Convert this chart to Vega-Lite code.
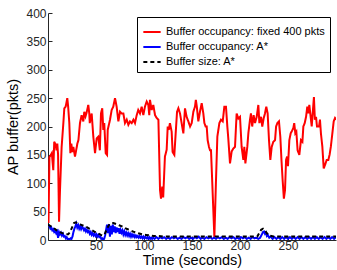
{
  "$schema": "https://vega.github.io/schema/vega-lite/v6.json",
  "width": 288,
  "height": 227,
  "autosize": {"type": "none"},
  "padding": {"left": 48, "top": 13, "right": 1, "bottom": 30},
  "background": "white",
  "config": {
    "view": {"stroke": null},
    "font": "Liberation Sans",
    "axis": {
      "grid": false,
      "domainColor": "#262626",
      "tickColor": "#262626",
      "labelColor": "#262626",
      "titleColor": "#000000",
      "labelFont": "Liberation Sans",
      "titleFont": "Liberation Sans",
      "labelFontSize": 12,
      "titleFontSize": 14.5,
      "titleFontWeight": "normal",
      "tickSize": -4,
      "domainWidth": 1
    }
  },
  "datasets": {
    "red": [
      {"t":0.5,"v":30},{"t":1.5,"v":146},{"t":3,"v":150},{"t":4,"v":153},{"t":5.5,"v":123},{"t":6.5,"v":173},{"t":8,"v":168},{"t":8.8,"v":158},{"t":9.7,"v":170},{"t":10.5,"v":150},{"t":11.5,"v":32},{"t":12.5,"v":88},{"t":14.2,"v":164},{"t":16,"v":206},{"t":17,"v":232},{"t":18.4,"v":235},{"t":20.1,"v":250},{"t":21,"v":235},{"t":22.2,"v":206},{"t":23.3,"v":153},{"t":24.3,"v":170},{"t":25.3,"v":155},{"t":26.4,"v":164},{"t":28.1,"v":147},{"t":29,"v":155},{"t":30.6,"v":170},{"t":31.7,"v":176},{"t":33.3,"v":206},{"t":35,"v":220},{"t":36.8,"v":209},{"t":37.8,"v":226},{"t":39.1,"v":218},{"t":40,"v":223},{"t":42,"v":238},{"t":43,"v":223},{"t":43.5,"v":206},{"t":45.5,"v":223},{"t":47.2,"v":182},{"t":49,"v":153},{"t":50.7,"v":179},{"t":52.4,"v":182},{"t":54,"v":158},{"t":55.2,"v":223},{"t":56.5,"v":232},{"t":57.6,"v":194},{"t":58.6,"v":206},{"t":60.1,"v":153},{"t":61.5,"v":150},{"t":62.2,"v":194},{"t":64.6,"v":212},{"t":66.3,"v":229},{"t":68,"v":235},{"t":69.8,"v":250},{"t":71.5,"v":235},{"t":73.3,"v":209},{"t":75,"v":226},{"t":76.7,"v":223},{"t":78.5,"v":223},{"t":80.2,"v":206},{"t":82,"v":212},{"t":83.7,"v":203},{"t":85.4,"v":209},{"t":87.2,"v":206},{"t":89,"v":212},{"t":90.6,"v":206},{"t":92.4,"v":220},{"t":94,"v":229},{"t":95.8,"v":223},{"t":97.6,"v":235},{"t":99.3,"v":220},{"t":101,"v":235},{"t":102.8,"v":244},{"t":104.5,"v":238},{"t":105.5,"v":220},{"t":106.2,"v":247},{"t":108,"v":229},{"t":109.7,"v":238},{"t":111.5,"v":220},{"t":113.2,"v":215},{"t":115,"v":212},{"t":116.7,"v":88},{"t":117.7,"v":73},{"t":119,"v":94},{"t":120,"v":75},{"t":121.8,"v":147},{"t":123.6,"v":159},{"t":124.7,"v":200},{"t":125.8,"v":194},{"t":127,"v":206},{"t":128.8,"v":191},{"t":129.8,"v":155},{"t":131.6,"v":150},{"t":133,"v":188},{"t":134.4,"v":226},{"t":135.8,"v":232},{"t":137.5,"v":223},{"t":139.2,"v":206},{"t":141,"v":188},{"t":142.7,"v":232},{"t":144.4,"v":217},{"t":146.2,"v":209},{"t":148,"v":200},{"t":149.7,"v":206},{"t":151.4,"v":226},{"t":153.1,"v":235},{"t":154,"v":247},{"t":155,"v":235},{"t":156.6,"v":209},{"t":158.3,"v":226},{"t":160.1,"v":241},{"t":161.8,"v":223},{"t":162.9,"v":206},{"t":164.2,"v":200},{"t":165.3,"v":200},{"t":166.3,"v":176},{"t":167.7,"v":164},{"t":168.8,"v":158},{"t":169.8,"v":158},{"t":171,"v":106},{"t":173.3,"v":5},{"t":175,"v":106},{"t":176.4,"v":182},{"t":178.5,"v":206},{"t":180.2,"v":212},{"t":182,"v":209},{"t":183.7,"v":235},{"t":185.4,"v":235},{"t":186.8,"v":200},{"t":187.8,"v":179},{"t":189.6,"v":135},{"t":191.3,"v":156},{"t":193,"v":161},{"t":194.8,"v":164},{"t":196.5,"v":223},{"t":198.3,"v":214},{"t":200,"v":217},{"t":201.7,"v":164},{"t":203.5,"v":141},{"t":204.5,"v":164},{"t":205.6,"v":135},{"t":207.6,"v":164},{"t":208.7,"v":188},{"t":210.4,"v":212},{"t":211.4,"v":223},{"t":212.7,"v":200},{"t":214.2,"v":220},{"t":215.6,"v":206},{"t":217.4,"v":217},{"t":219.1,"v":238},{"t":220.2,"v":206},{"t":221.9,"v":217},{"t":223.2,"v":200},{"t":224.6,"v":214},{"t":226,"v":223},{"t":227.4,"v":235},{"t":228.8,"v":223},{"t":230.2,"v":176},{"t":231.6,"v":141},{"t":233,"v":164},{"t":234.7,"v":173},{"t":236.5,"v":176},{"t":237.6,"v":200},{"t":238.9,"v":206},{"t":240.6,"v":209},{"t":242,"v":182},{"t":243.2,"v":141},{"t":244.4,"v":106},{"t":245.7,"v":73},{"t":246.9,"v":88},{"t":248,"v":141},{"t":249,"v":147},{"t":250,"v":130},{"t":251.4,"v":176},{"t":252.8,"v":188},{"t":253.8,"v":191},{"t":255.5,"v":197},{"t":256.5,"v":206},{"t":257.6,"v":188},{"t":258.7,"v":191},{"t":260,"v":158},{"t":261.8,"v":150},{"t":263.5,"v":176},{"t":265,"v":173},{"t":266,"v":200},{"t":267.4,"v":206},{"t":268.8,"v":217},{"t":270.1,"v":235},{"t":271.2,"v":223},{"t":272.2,"v":238},{"t":273.6,"v":217},{"t":274.7,"v":200},{"t":275.7,"v":223},{"t":277,"v":252},{"t":278,"v":212},{"t":279.2,"v":217},{"t":280.2,"v":200},{"t":282.3,"v":200},{"t":283.3,"v":212},{"t":284.3,"v":188},{"t":285.8,"v":164},{"t":287.2,"v":126},{"t":288.5,"v":132},{"t":290.3,"v":141},{"t":292,"v":141},{"t":293.3,"v":150},{"t":294.6,"v":164},{"t":296.2,"v":188},{"t":297.6,"v":209},{"t":299,"v":215},{"t":300.5,"v":212}
    ],
    "blue": [
      {"t":0.3,"v":27},{"t":1.5,"v":24},{"t":2.5,"v":20},{"t":3.5,"v":22},{"t":4.5,"v":17},{"t":5.5,"v":19},{"t":6.5,"v":14},{"t":7.5,"v":16},{"t":8.5,"v":12},{"t":9.5,"v":15},{"t":10.5,"v":4},{"t":11.5,"v":14},{"t":12.5,"v":10},{"t":13.5,"v":13},{"t":14.5,"v":8},{"t":15.5,"v":11},{"t":16.5,"v":6},{"t":17.5,"v":7},{"t":18.5,"v":3},{"t":19.5,"v":5},{"t":20.5,"v":1},{"t":21.5,"v":2},{"t":22.5,"v":1},{"t":23.5,"v":3},{"t":24.5,"v":2},{"t":25.5,"v":6},{"t":26.5,"v":14},{"t":27.5,"v":20},{"t":28.5,"v":24},{"t":29.5,"v":29},{"t":30.5,"v":22},{"t":31.5,"v":26},{"t":32.5,"v":20},{"t":33.5,"v":24},{"t":34.5,"v":19},{"t":35.5,"v":23},{"t":36.5,"v":21},{"t":37.5,"v":17},{"t":38.5,"v":20},{"t":39.5,"v":15},{"t":40.5,"v":18},{"t":41.5,"v":14},{"t":42.5,"v":16},{"t":43.5,"v":11},{"t":44.5,"v":14},{"t":45.5,"v":9},{"t":46.5,"v":12},{"t":47.5,"v":8},{"t":48.5,"v":11},{"t":49.5,"v":7},{"t":50.5,"v":10},{"t":51.5,"v":6},{"t":52.5,"v":9},{"t":53.5,"v":5},{"t":54.5,"v":6},{"t":55.5,"v":2},{"t":56.5,"v":3},{"t":57.5,"v":0},{"t":58.5,"v":2},{"t":59.5,"v":8},{"t":60.5,"v":18},{"t":61.5,"v":27},{"t":62.5,"v":12},{"t":63.5,"v":28},{"t":64.5,"v":6},{"t":65.5,"v":25},{"t":66.5,"v":10},{"t":67.5,"v":27},{"t":68.5,"v":14},{"t":69.5,"v":24},{"t":70.5,"v":12},{"t":71.5,"v":22},{"t":72.5,"v":14},{"t":73.5,"v":21},{"t":74.5,"v":11},{"t":75.5,"v":18},{"t":76.5,"v":13},{"t":77.5,"v":17},{"t":78.5,"v":10},{"t":79.5,"v":15},{"t":80.5,"v":9},{"t":81.5,"v":13},{"t":82.5,"v":8},{"t":83.5,"v":12},{"t":84.5,"v":7},{"t":85.5,"v":11},{"t":86.5,"v":6},{"t":87.5,"v":10},{"t":88.5,"v":6},{"t":89.5,"v":9},{"t":90.5,"v":5},{"t":91.5,"v":8},{"t":92.5,"v":5},{"t":93.5,"v":7},{"t":94.5,"v":4},{"t":95.5,"v":7},{"t":96.5,"v":4},{"t":97.5,"v":6},{"t":98.5,"v":3},{"t":99.5,"v":6},{"t":100.5,"v":3},{"t":101.5,"v":5},{"t":102.5,"v":3},{"t":103.5,"v":5},{"t":104.5,"v":2},{"t":105.5,"v":5},{"t":106.5,"v":2},{"t":107.5,"v":4},{"t":108.5,"v":2},{"t":109.5,"v":4},
      {"t":111,"v":2},{"t":113,"v":5},{"t":115,"v":2},{"t":117,"v":5},{"t":119,"v":3},{"t":121,"v":5},{"t":123,"v":2},{"t":125,"v":4},{"t":127,"v":2},{"t":129,"v":5},{"t":131,"v":3},{"t":133,"v":5},{"t":135,"v":2},{"t":137,"v":4},{"t":139,"v":2},{"t":141,"v":5},{"t":143,"v":3},{"t":145,"v":5},{"t":147,"v":2},{"t":149,"v":4},{"t":151,"v":2},{"t":153,"v":5},{"t":155,"v":3},{"t":157,"v":6},{"t":159,"v":2},{"t":161,"v":4},{"t":163,"v":2},{"t":165,"v":5},{"t":167,"v":3},{"t":169,"v":5},{"t":171,"v":2},{"t":173,"v":4},{"t":175,"v":2},{"t":177,"v":5},{"t":179,"v":3},{"t":181,"v":5},{"t":183,"v":2},{"t":185,"v":4},{"t":187,"v":2},{"t":189,"v":5},{"t":191,"v":3},{"t":193,"v":5},{"t":195,"v":2},{"t":197,"v":4},{"t":199,"v":2},{"t":201,"v":5},{"t":203,"v":3},{"t":205,"v":5},{"t":207,"v":2},{"t":209,"v":4},{"t":211,"v":2},{"t":213,"v":5},{"t":215,"v":3},{"t":217,"v":4},{"t":219,"v":2},{"t":221,"v":4},{"t":222.5,"v":9},{"t":224,"v":14},{"t":225,"v":15},{"t":226,"v":11},{"t":227,"v":13},{"t":228,"v":7},{"t":229,"v":9},{"t":230.5,"v":4},{"t":232,"v":6},{"t":234,"v":2},{"t":236,"v":5},{"t":238,"v":2},{"t":240,"v":5},{"t":242,"v":2},{"t":244,"v":5},{"t":246,"v":2},{"t":248,"v":5},{"t":250,"v":2},{"t":252,"v":5},{"t":254,"v":2},{"t":256,"v":5},{"t":258,"v":2},{"t":260,"v":5},{"t":262,"v":2},{"t":264,"v":5},{"t":266,"v":2},{"t":268,"v":5},{"t":270,"v":2},{"t":272,"v":5},{"t":274,"v":2},{"t":276,"v":5},{"t":278,"v":2},{"t":280,"v":5},{"t":282,"v":2},{"t":284,"v":5},{"t":286,"v":2},{"t":288,"v":5},{"t":290,"v":2},{"t":292,"v":5},{"t":294,"v":2},{"t":296,"v":5},{"t":298,"v":2},{"t":300,"v":5}
    ],
    "black": [
      {"t":0,"v":27},{"t":3,"v":24},{"t":6,"v":21},{"t":9,"v":17},{"t":12,"v":14},{"t":15,"v":12},{"t":18,"v":10},{"t":21,"v":10},{"t":23,"v":14},{"t":25,"v":22},{"t":27,"v":30},{"t":29,"v":31},{"t":31,"v":29},{"t":34,"v":27},{"t":37,"v":25},{"t":40,"v":23},{"t":43,"v":20},{"t":46,"v":17},{"t":49,"v":14},{"t":52,"v":12},{"t":55,"v":9},{"t":57,"v":8},{"t":59,"v":10},{"t":61,"v":18},{"t":63,"v":25},{"t":65,"v":29},{"t":68,"v":30},{"t":71,"v":28},{"t":74,"v":26},{"t":77,"v":24},{"t":80,"v":21},{"t":83,"v":19},{"t":86,"v":17},{"t":90,"v":14},{"t":94,"v":12},{"t":98,"v":10},{"t":102,"v":9},{"t":106,"v":8},{"t":110,"v":7},{"t":115,"v":7},{"t":120,"v":6},{"t":130,"v":6},{"t":140,"v":6},{"t":150,"v":6},{"t":160,"v":6},{"t":170,"v":6},{"t":180,"v":6},{"t":190,"v":6},{"t":200,"v":6},{"t":210,"v":6},{"t":218,"v":6},{"t":220,"v":12},{"t":222,"v":18},{"t":224,"v":20},{"t":226,"v":17},{"t":228,"v":12},{"t":230,"v":8},{"t":235,"v":6},{"t":240,"v":6},{"t":250,"v":6},{"t":260,"v":6},{"t":270,"v":6},{"t":280,"v":6},{"t":290,"v":6},{"t":300,"v":6}
    ]
  },
  "encoding": {
    "x": {
      "field": "t", "type": "quantitative",
      "scale": {"domain": [0, 300], "nice": false},
      "axis": {"title": "Time (seconds)", "values": [50, 100, 150, 200, 250], "labelPadding": 4, "titlePadding": 2}
    },
    "y": {
      "field": "v", "type": "quantitative",
      "scale": {"domain": [0, 400], "nice": false},
      "axis": {"title": "AP buffer(pkts)", "values": [0, 50, 100, 150, 200, 250, 300, 350, 400], "labelPadding": 6, "titlePadding": 5}
    },
    "color": {
      "field": "s", "type": "nominal",
      "scale": {
        "domain": ["Buffer occupancy: fixed 400 pkts", "Buffer occupancy: A*", "Buffer size: A*"],
        "range": ["#ff0000", "#0000ff", "#000000"]
      },
      "legend": {
        "title": null,
        "orient": "none",
        "legendX": 89,
        "legendY": 4,
        "symbolType": "stroke",
        "symbolSize": 300,
        "symbolStrokeWidth": 2,
        "labelFontSize": 11,
        "labelFont": "Liberation Sans",
        "labelColor": "#000000",
        "rowPadding": -3.5,
        "padding": 5,
        "strokeColor": "#000000",
        "fillColor": "#ffffff",
        "labelOffset": 4
      }
    },
    "strokeDash": {
      "field": "s", "type": "nominal",
      "scale": {
        "domain": ["Buffer occupancy: fixed 400 pkts", "Buffer occupancy: A*", "Buffer size: A*"],
        "range": [[1, 0], [1, 0], [4, 3]]
      }
    }
  },
  "layer": [
    {
      "data": {"name": "red"},
      "transform": [{"calculate": "'Buffer occupancy: fixed 400 pkts'", "as": "s"}],
      "mark": {"type": "line", "strokeWidth": 2, "clip": true}
    },
    {
      "data": {"name": "blue"},
      "transform": [{"calculate": "'Buffer occupancy: A*'", "as": "s"}],
      "mark": {"type": "line", "strokeWidth": 2, "clip": true}
    },
    {
      "data": {"name": "black"},
      "transform": [{"calculate": "'Buffer size: A*'", "as": "s"}],
      "mark": {"type": "line", "strokeWidth": 2, "clip": true}
    }
  ]
}
